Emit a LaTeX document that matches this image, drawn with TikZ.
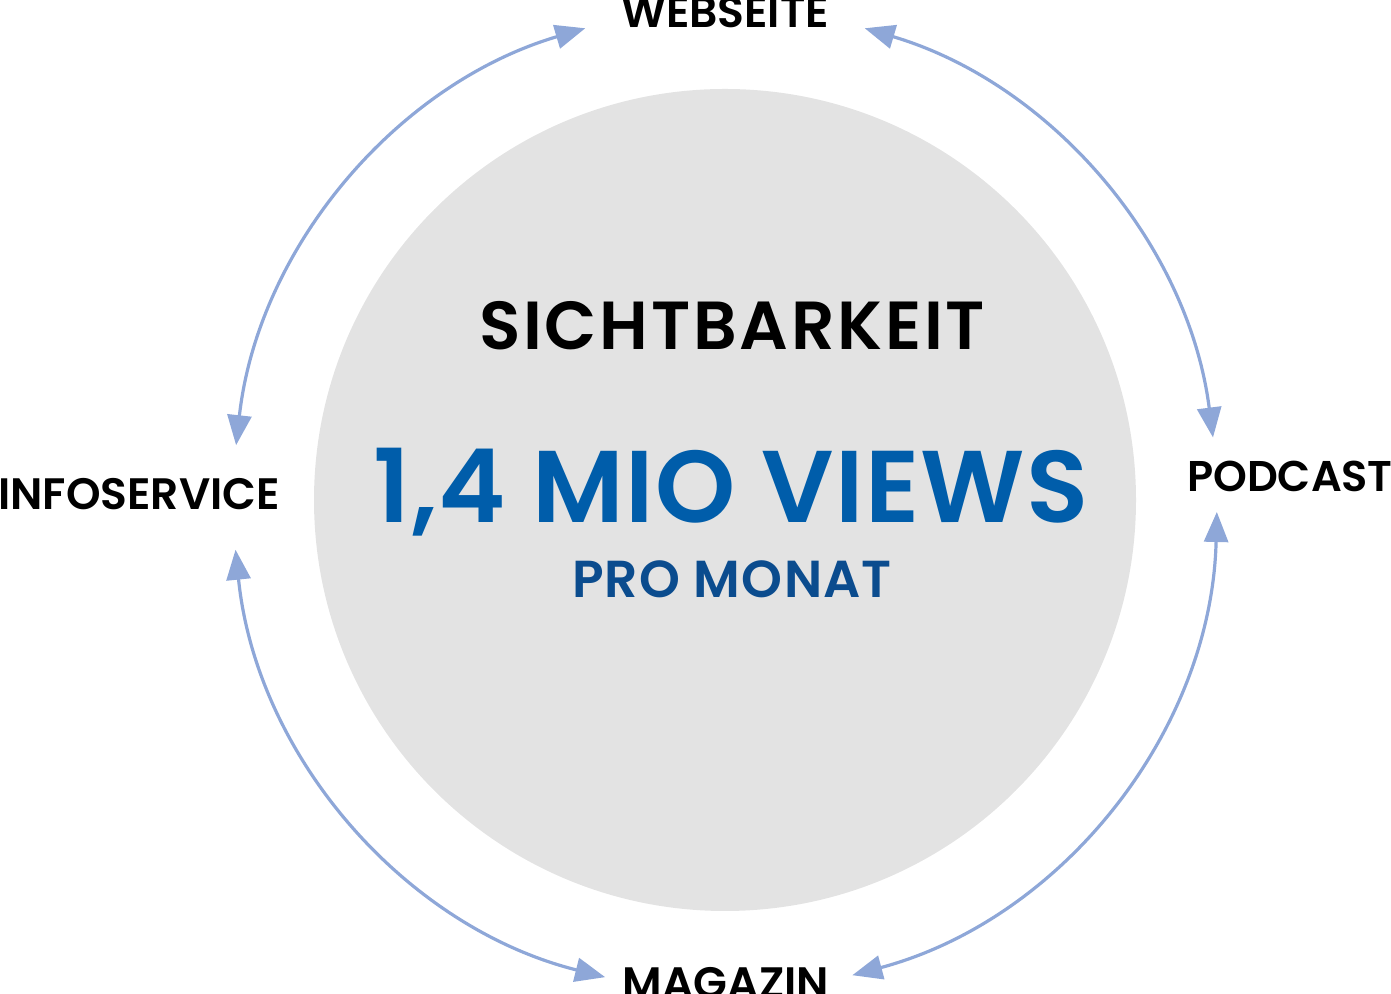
\documentclass[tikz,border=0pt]{standalone}
\usepackage{fontspec}
\setmainfont{Poppins SemiBold}
\usetikzlibrary{arrows.meta}
\definecolor{ringblue}{HTML}{8EA7D8}
\definecolor{viewsblue}{HTML}{005DAA}
\definecolor{monatblue}{HTML}{0B4C8E}
\definecolor{coregray}{HTML}{E3E3E3}
\tikzset{
	channel/.style={font=\fontsize{22}{22}\selectfont, anchor=base, inner sep=0pt},
	loop arrow/.style={draw=ringblue, line width=1.6pt, {Triangle[length=15pt,width=12pt]}-{Triangle[length=15pt,width=12pt]}}
}
\begin{document}
\begin{tikzpicture}[x=0.5pt,y=0.5pt]
	\useasboundingbox (0,0) rectangle (1391,994);
	\coordinate (C) at (725,494);
	\node[circle, fill=coregray, minimum size=411pt, inner sep=0pt] (core) at (C) {};
	% channel labels
	\node[channel] (web) at (725,966) {WEBSEITE};
	\node[channel] (info) at (139,484) {INFOSERVICE};
	\node[channel, font=\fontsize{21.5}{22}\selectfont] (pod) at (1290,502) {PODCAST};
	\node[channel] (mag) at (726,-5) {MAGAZIN};
	% centre text
	\node[font=\fontsize{34}{34}\selectfont\addfontfeatures{LetterSpace=4}, anchor=base, inner sep=0pt] (title) at (732,644) {SICHTBARKEIT};
	\node[font=\fontsize{51}{51}\selectfont\addfontfeatures{LetterSpace=1.5}, text=viewsblue, anchor=base, inner sep=0pt] (views) at (731,471) {1,4 MIO VIEWS};
	\node[font=\fontsize{26}{26}\selectfont\addfontfeatures{LetterSpace=2.4}, text=monatblue, anchor=base, inner sep=0pt] (month) at (732,396) {PRO MONAT};
	% arc ends
	\coordinate (wl) at ([shift={(106.5:246pt)}]C);
	\coordinate (wr) at ([shift={(73.5:246pt)}]C);
	\coordinate (pt) at ([shift={(7.3:246pt)}]C);
	\coordinate (pb) at ([shift={(-1.4:246pt)}]C);
	\coordinate (mr) at ([shift={(-75:246pt)}]C);
	\coordinate (ml) at ([shift={(-104.1:246pt)}]C);
	\coordinate (ib) at ([shift={(-174.2:246pt)}]C);
	\coordinate (it) at ([shift={(173.6:246pt)}]C);
	\draw[loop arrow] (wl) arc[start angle=106.5, end angle=173.6, radius=246pt];
	\draw[loop arrow] (wr) arc[start angle=73.5, end angle=7.3, radius=246pt];
	\draw[loop arrow] (pb) arc[start angle=-1.4, end angle=-75, radius=246pt];
	\draw[loop arrow] (ml) arc[start angle=-104.1, end angle=-174.2, radius=246pt];
\end{tikzpicture}
\end{document}
